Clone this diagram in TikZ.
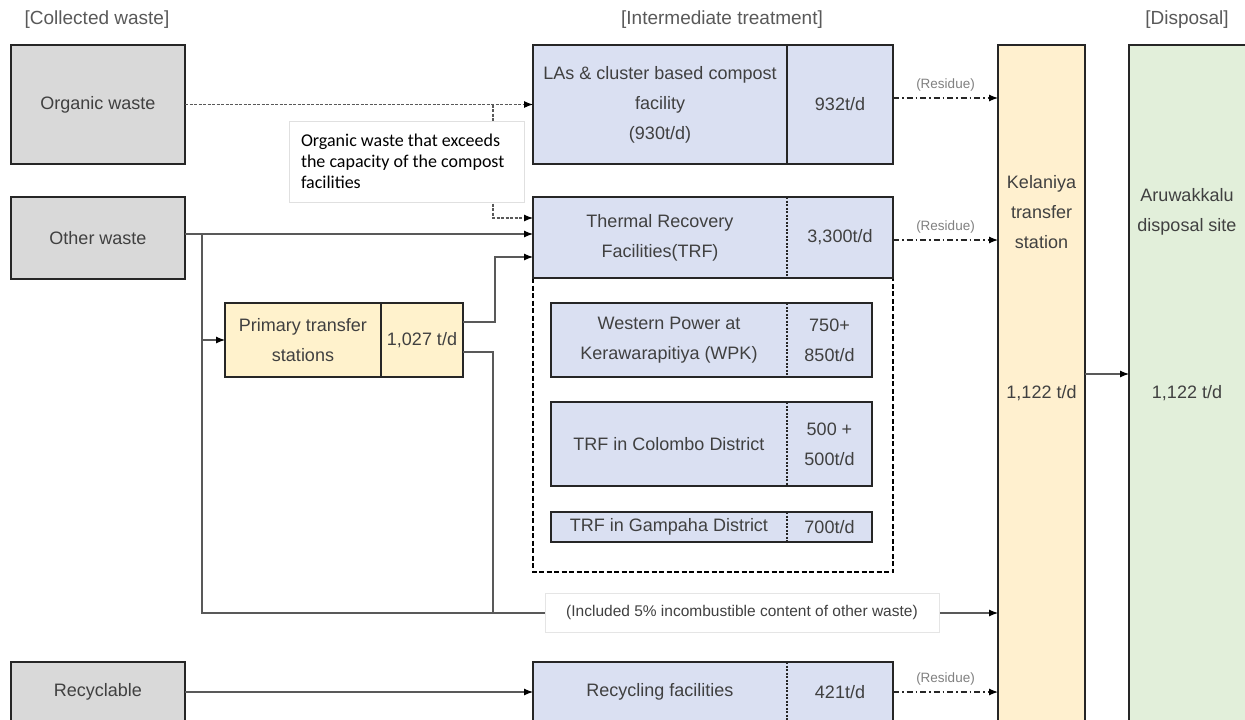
\documentclass[tikz,border=0pt]{standalone}
\usepackage{fontspec}
\setmainfont{Liberation Sans}
\newfontfamily\notefont{Carlito}
\usetikzlibrary{arrows.meta}
\usetikzlibrary{positioning}

\definecolor{wastegrey}{HTML}{D9D9D9}
\definecolor{treatblue}{HTML}{DAE0F2}
\definecolor{ptsyellow}{HTML}{FFF2CC}
\definecolor{kelyellow}{HTML}{FFF0CF}
\definecolor{sitegreen}{HTML}{E2EFDA}
\definecolor{labelgrey}{HTML}{404040}
\definecolor{linegrey}{HTML}{595959}
\definecolor{boxedge}{HTML}{262626}

\begin{document}
\begin{tikzpicture}[x=1pt,y=-1pt,
    box/.style={inner sep=0pt, outer sep=0pt, align=center, text=labelgrey, font=\fontsize{18}{30}\selectfont},
    wastebox/.style={box, draw=boxedge, line width=1.5pt, fill=wastegrey},
    treatbox/.style={box, fill=treatblue},
    ptsbox/.style={box, fill=ptsyellow},
    outline/.style={draw=boxedge, line width=1.5pt},
    divider/.style={draw=boxedge, line width=1.3pt, dash pattern=on 2pt off 1.5pt},
    header/.style={text=linegrey, font=\fontsize{19}{22}\selectfont},
    flow/.style={draw=linegrey, line width=1.1pt, -{Latex[length=9pt,width=7pt,color=black]}},
    plain/.style={draw=linegrey, line width=1.1pt},
    orgflow/.style={flow, dash pattern=on 3pt off 1.5pt},
    residue/.style={draw=boxedge, line width=1.2pt, dash pattern=on 6pt off 3pt on 1.5pt off 3pt, -{Latex[length=9pt,width=7pt,color=black]}},
    residuelabel/.style={text=gray, font=\fontsize{13.5}{16}\selectfont},
    groupline/.style={draw=black, line width=1.6pt, dash pattern=on 5pt off 2.5pt}]
    \useasboundingbox[fill=white] (0,0) rectangle (1245,720);

    % column headings
    \node[header] (collected) at (97,20) {[Collected waste]};
    \node[header] (intermediate) at (722,20) {[Intermediate treatment]};
    \node[header] (disposal) at (1187,20) {[Disposal]};

    % collected waste
    \node[wastebox, minimum width=174pt, minimum height=119pt] (organic) at (98,104.5) {Organic waste};
    \node[wastebox, minimum width=174pt, minimum height=82pt] (other) at (98,238) {Other waste};
    \node[wastebox, minimum width=174pt, minimum height=60pt] (recyclable) at (98,692) {Recyclable};

    % intermediate treatment
    \node[treatbox, minimum width=254pt, minimum height=119pt] (compost) at (660,104.5) {LAs \& cluster based compost\\facility\\(930t/d)};
    \node[treatbox, minimum width=106pt, minimum height=119pt, right=0pt of compost] (compostval) {932t/d};
    \draw[outline] (compost.north west) rectangle (compostval.south east);
    \draw[outline] (compost.north east) -- (compost.south east);

    \coordinate (groupend) at (893,572);
    \draw[groupline] (533,278) rectangle (groupend);

    \node[treatbox, minimum width=254pt, minimum height=81pt] (trf) at (660,237.5) {Thermal Recovery\\Facilities(TRF)};
    \node[treatbox, minimum width=106pt, minimum height=81pt, right=0pt of trf] (trfval) {3,300t/d};
    \draw[outline] (trf.north west) rectangle (trfval.south east);
    \draw[divider] (trf.north east) -- (trf.south east);

    \node[treatbox, minimum width=236pt, minimum height=74pt] (wpk) at (669,340) {Western Power at\\Kerawarapitiya (WPK)};
    \node[treatbox, minimum width=85pt, minimum height=74pt, right=0pt of wpk] (wpkval) {750+\\850t/d};
    \draw[outline] (wpk.north west) rectangle (wpkval.south east);
    \draw[divider] (wpk.north east) -- (wpk.south east);

    \node[treatbox, minimum width=236pt, minimum height=84pt] (colombo) at (669,444) {TRF in Colombo District};
    \node[treatbox, minimum width=85pt, minimum height=84pt, right=0pt of colombo] (colomboval) {500 +\\500t/d};
    \draw[outline] (colombo.north west) rectangle (colomboval.south east);
    \draw[divider] (colombo.north east) -- (colombo.south east);

    \node[treatbox, minimum width=236pt, minimum height=30pt] (gampaha) at (669,527) {TRF in Gampaha District};
    \node[treatbox, minimum width=85pt, minimum height=30pt, right=0pt of gampaha] (gampahaval) {700t/d};
    \draw[outline] (gampaha.north west) rectangle (gampahaval.south east);
    \draw[divider] (gampaha.north east) -- (gampaha.south east);

    \node[ptsbox, minimum width=156pt, minimum height=74pt] (primary) at (303,340) {Primary transfer\\stations};
    \node[ptsbox, minimum width=82pt, minimum height=74pt, right=0pt of primary] (primaryval) {1,027 t/d};
    \draw[outline] (primary.north west) rectangle (primaryval.south east);
    \draw[outline] (primary.north east) -- (primary.south east);

    \node[treatbox, minimum width=254pt, minimum height=60pt] (recycling) at (660,692) {Recycling facilities};
    \node[treatbox, minimum width=106pt, minimum height=60pt, right=0pt of recycling] (recyclingval) {421t/d};
    \draw[outline] (recycling.north west) rectangle (recyclingval.south east);
    \draw[divider] (recycling.north east) -- (recycling.south east);

    % disposal
    \node[box, draw=boxedge, line width=1.5pt, fill=kelyellow, minimum width=87pt, minimum height=680pt] (kel) at (1041.5,385) {};
    \node[box] (kelname) at (1041.5,212) {Kelaniya\\transfer\\station};
    \node[box] (kelval) at (1041.5,393) {1,122 t/d};
    \node[box, draw=boxedge, line width=1.5pt, fill=sitegreen, minimum width=131pt, minimum height=680pt] (aru) at (1194.5,385) {};
    \node[box] (aruname) at (1187,212) {Aruwakkalu\\disposal site};
    \node[box] (aruval) at (1187,393) {1,122 t/d};

    % organic waste
    \draw[orgflow] (organic.east) -- (organic.east -| compost.west);
    \coordinate (excess) at ([xshift=-40pt]compost.west);
    \draw[orgflow] (excess) |- ([yshift=19.5pt]trf.west);
    \node[draw=black!12, fill=white, line width=0.8pt, minimum width=235pt, minimum height=81pt, inner sep=12pt, text width=211pt, align=flush left, font=\notefont\fontsize{18}{21}\selectfont] (excessnote) at (406.5,161.5) {Organic waste that exceeds\\the capacity of the compost\\facilities};

    % other waste
    \coordinate (otherout) at ([yshift=4pt]other.east);
    \draw[flow] (otherout) -- (otherout -| trf.west);
    \coordinate (otherfork) at ([xshift=17pt]otherout);
    \coordinate (bypass) at (202,613);
    \draw[flow] (otherfork) |- (primary.west);
    \draw[flow] (otherfork) -- (bypass) -- (bypass -| kel.west);
    \coordinate (ptsup) at ([yshift=18pt]primaryval.east);
    \draw[flow] (ptsup) -- ++(32,0) |- ([yshift=-19.5pt]trf.west);
    \coordinate (ptsdown) at ([yshift=-12pt]primaryval.east);
    \draw[plain] (ptsdown) -- ++(30,0) coordinate (ptsjoin) -- (ptsjoin |- bypass);
    \node[draw=black!10, fill=white, line width=0.8pt, minimum width=394pt, minimum height=39pt, text=labelgrey, font=\fontsize{15.5}{17}\selectfont] (incombustible) at (742,612.5) {(Included 5\% incombustible content of other waste)};

    % recyclable
    \draw[flow] (recyclable.east) -- (recycling.west);

    % residues
    \draw[residue] ([yshift=6.5pt]compostval.east) -- ([yshift=6.5pt]compostval.east -| kel.west) node[midway, above=3pt, residuelabel] {(Residue)};
    \draw[residue] ([yshift=-2.5pt]trfval.east) -- ([yshift=-2.5pt]trfval.east -| kel.west) node[midway, above=3pt, residuelabel] {(Residue)};
    \draw[residue] (recyclingval.east) -- (recyclingval.east -| kel.west) node[midway, above=3pt, residuelabel] {(Residue)};

    \draw[flow] ([yshift=11pt]kel.east) -- ([yshift=11pt]kel.east -| aru.west);
\end{tikzpicture}
\end{document}
